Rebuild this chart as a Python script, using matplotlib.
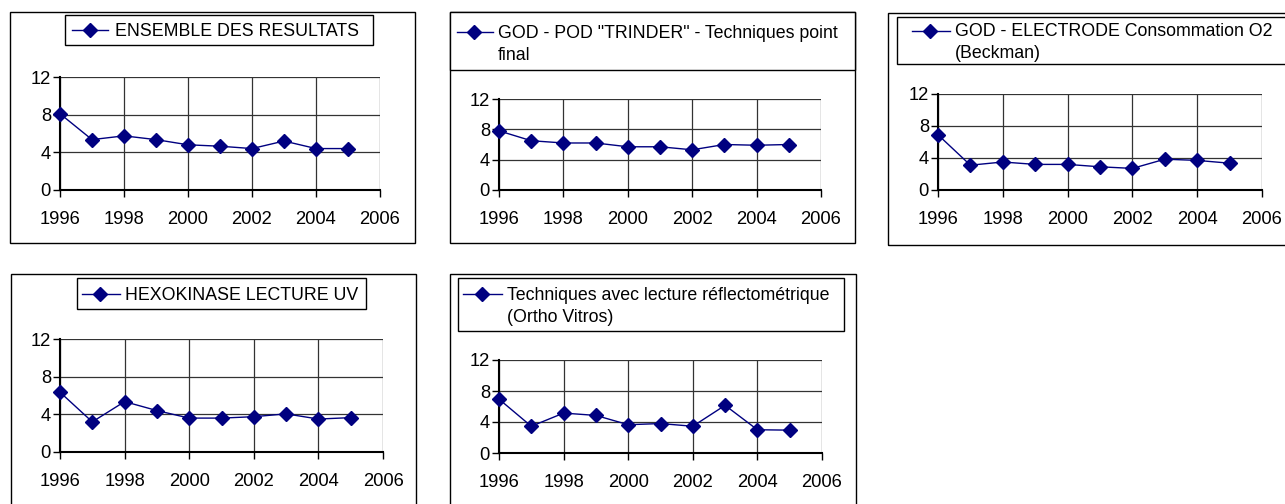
import matplotlib
matplotlib.use("Agg")
import matplotlib.pyplot as plt
from matplotlib.patches import Rectangle
from matplotlib.lines import Line2D

# ---------------- data ----------------
years = [1996, 1997, 1998, 1999, 2000, 2001, 2002, 2003, 2004, 2005]
ensemble = [8.1, 5.35, 5.75, 5.35, 4.8, 4.65, 4.4, 5.2, 4.4, 4.4]
trinder = [7.8, 6.5, 6.2, 6.2, 5.7, 5.7, 5.3, 6.0, 5.9, 6.0]
electrode = [6.9, 3.1, 3.5, 3.2, 3.2, 2.9, 2.7, 3.85, 3.7, 3.35]
hexokinase = [6.35, 3.2, 5.35, 4.4, 3.6, 3.6, 3.75, 4.05, 3.5, 3.65]
vitros = [6.95, 3.45, 5.15, 4.85, 3.65, 3.8, 3.45, 6.15, 3.0, 2.95]

labels = [
    ["ENSEMBLE DES RESULTATS"],
    ['GOD - POD "TRINDER" - Techniques point', "final"],
    ["GOD - ELECTRODE Consommation O2", "(Beckman)"],
    ["HEXOKINASE LECTURE UV"],
    ["Techniques avec lecture réflectométrique", "(Ortho Vitros)"],
]
series = [ensemble, trinder, electrode, hexokinase, vitros]
xticks = [1996, 1998, 2000, 2002, 2004, 2006]
yticks = [0, 4, 8, 12]

# ---------------- layout (pixels) ----------------
W, H = 1285, 504
plt.rcParams['font.family'] = ['Liberation Sans', 'DejaVu Sans']
fig = plt.figure(figsize=(W / 100, H / 100), dpi=100)
fig.patch.set_facecolor('white')

NAVY = '#000080'
MS = 7.5
FS = 12.8

def fx(x):
    return x / W

def fy(y):
    return 1 - y / H

panels = [
    dict(frame=(10, 12, 415, 243), lbox=(65, 15, 373, 45), handle=(72, 108, 90, 30),
         tx=115, tys=[30], axes=(60, 77, 380, 190)),
    dict(frame=(450, 12, 855, 243), lbox=(450, 12, 855, 70), handle=(457, 493, 474, 32),
         tx=498, tys=[32, 54], axes=(499, 99, 821, 190)),
    dict(frame=(888, 13, 1300, 245), lbox=(897, 17, 1300, 64), handle=(912, 950, 930, 31),
         tx=955, tys=[31, 53], axes=(938, 94, 1262, 190)),
    dict(frame=(11, 274, 416, 520), lbox=(77, 278, 366, 309), handle=(82, 120, 100, 294),
         tx=125, tys=[294], axes=(60, 339, 383, 452)),
    dict(frame=(450, 274, 856, 520), lbox=(458, 278, 844, 331), handle=(463, 502, 482, 294),
         tx=507, tys=[294, 316], axes=(499, 360, 822, 453)),
]

for p, lab, ys in zip(panels, labels, series):
    l, t, r, b = p['frame']
    fig.add_artist(Rectangle((fx(l), fy(b)), (r - l) / W, (b - t) / H,
                             transform=fig.transFigure, fill=False,
                             edgecolor='black', lw=1.0))
    l, t, r, b = p['lbox']
    fig.add_artist(Rectangle((fx(l), fy(b)), (r - l) / W, (b - t) / H,
                             transform=fig.transFigure, facecolor='white',
                             edgecolor='black', lw=1.0))
    x1, x2, xm, yh = p['handle']
    fig.add_artist(Line2D([fx(x1), fx(x2)], [fy(yh), fy(yh)], transform=fig.transFigure,
                          color=NAVY, lw=1.0))
    fig.add_artist(Line2D([fx(xm)], [fy(yh)], transform=fig.transFigure,
                          marker='D', markersize=MS, color=NAVY, lw=0))
    for line, ty in zip(lab, p['tys']):
        fig.text(fx(p['tx']), fy(ty + 1), line, ha='left', va='center', fontsize=FS, color='black')

    l, t, r, b = p['axes']
    ax = fig.add_axes([fx(l), fy(b), (r - l) / W, (b - t) / H])
    ax.set_facecolor('white')
    ax.plot(years, ys, color=NAVY, lw=1.0, marker='D', markersize=MS,
            markerfacecolor=NAVY, markeredgecolor=NAVY, clip_on=False, zorder=5)
    ax.set_xlim(1996, 2006)
    ax.set_ylim(0, 12)
    ax.set_xticks(xticks)
    ax.set_yticks(yticks)
    ax.grid(True, color='#333333', lw=0.9)
    ax.set_axisbelow(True)
    for s in ['top', 'right']:
        ax.spines[s].set_visible(False)
    for s in ['left', 'bottom']:
        ax.spines[s].set_color('black')
        ax.spines[s].set_linewidth(1.5)
    ax.tick_params(axis='x', direction='out', length=5, width=1, pad=10,
                   labelsize=13.2, colors='black')
    ax.tick_params(axis='y', direction='out', length=5, width=1, pad=1.5,
                   labelsize=13.2, colors='black')

fig.savefig('out.png', dpi=100, facecolor='white')
